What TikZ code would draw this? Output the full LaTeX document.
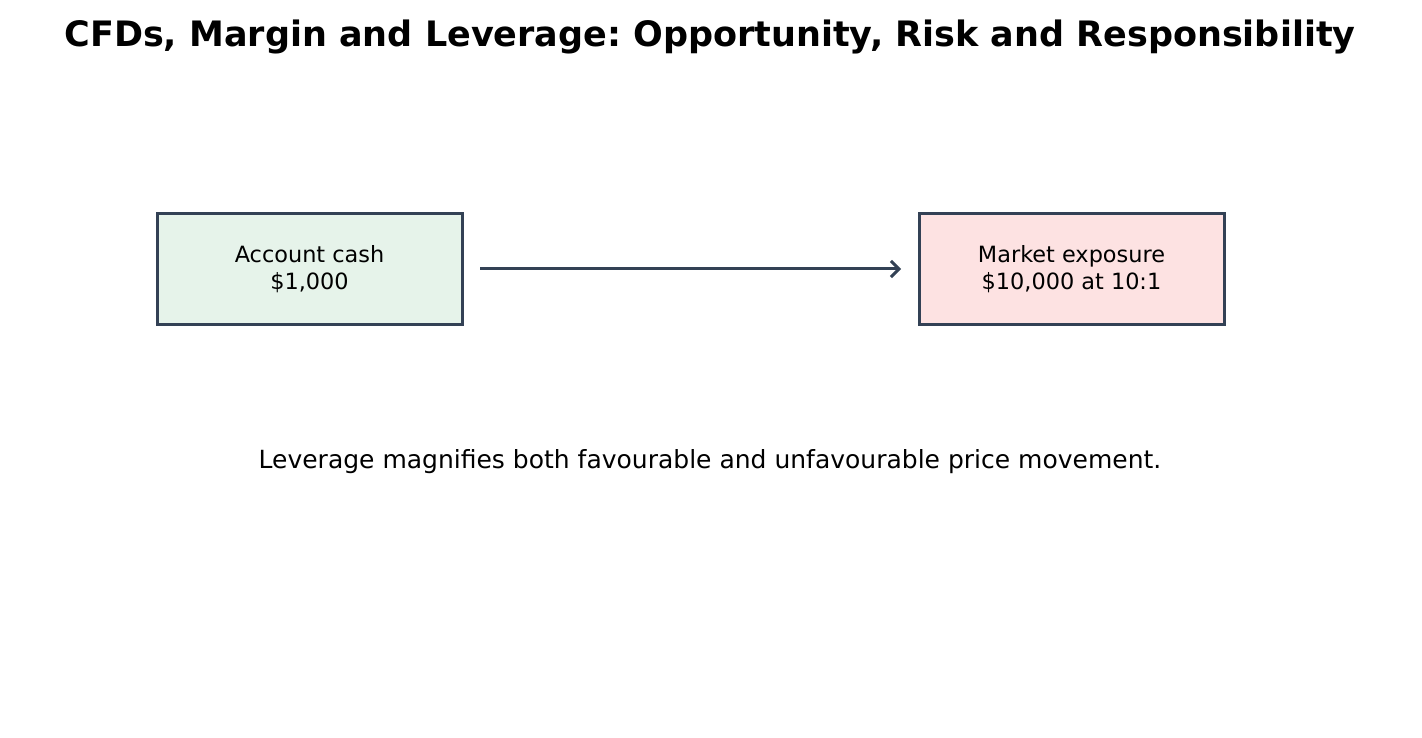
\documentclass[tikz,border=0pt]{standalone}
\usepackage{fontspec}
\setmainfont{DejaVu Sans}
\usetikzlibrary{arrows.meta, positioning}
\frenchspacing
\definecolor{edgeslate}{HTML}{334155}
\definecolor{cashgreen}{HTML}{E6F3EA}
\definecolor{riskpink}{HTML}{FDE2E2}
\tikzset{
    block/.style={rectangle, draw=edgeslate, line width=3pt, text centered, minimum height=110pt, minimum width=305pt, font=\fontsize{22.4}{27}\selectfont, align=center, inner sep=0pt, outer sep=0pt},
    arrow/.style={draw=edgeslate, line width=3pt, -{Straight Barb[length=8pt, width=16pt, line width=3pt]}}
}

\begin{document}
\begin{tikzpicture}[x=1pt, y=-1pt, node distance=457pt]
    \useasboundingbox (0,0) rectangle (1422,738);
    \node (title) at (710,37) {\fontsize{35}{40}\selectfont\bfseries CFDs, Margin and Leverage: Opportunity, Risk and Responsibility};
    \node (cash) [block, fill=cashgreen] at (309.5,269) {Account cash\\\$1,000};
    \node (expo) [block, fill=riskpink, right=of cash] {Market exposure\\\$10,000 at 10:1};
    \node (note) at (710,462) {\fontsize{25}{30}\selectfont Leverage magnifies both favourable and unfavourable price movement.};

    \draw [arrow, shorten <=18pt, shorten >=18pt] (cash) -- (expo);
\end{tikzpicture}
\end{document}
